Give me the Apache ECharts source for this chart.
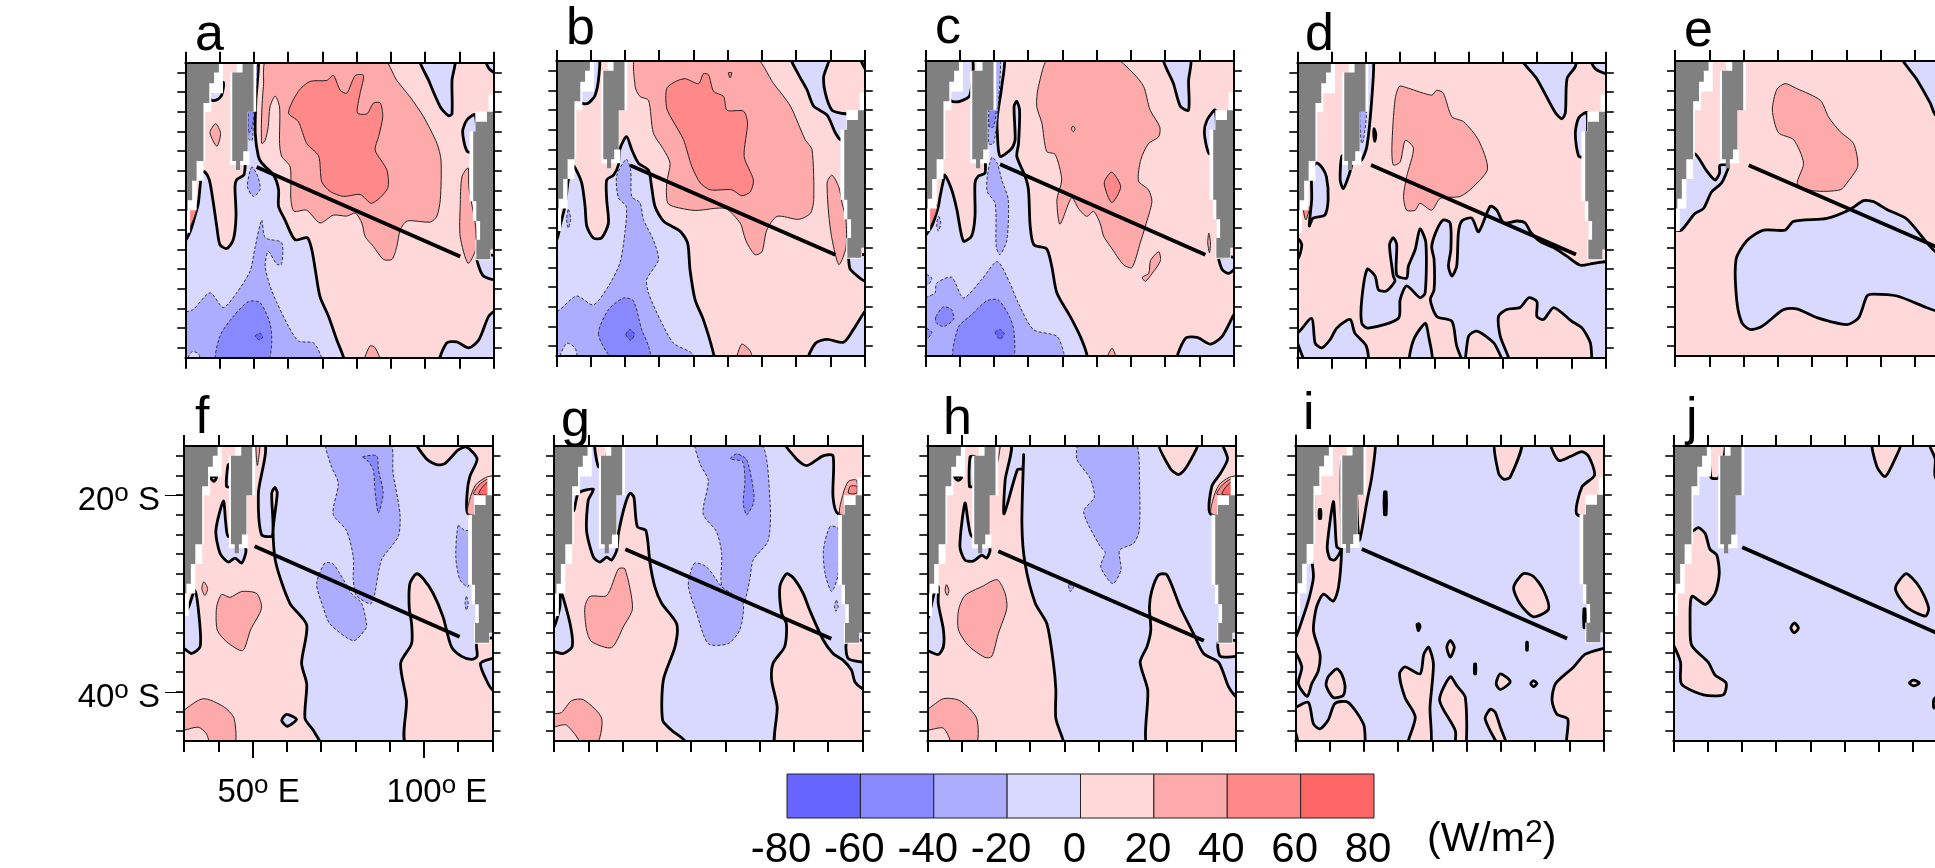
<!DOCTYPE html>
<html><head><meta charset="utf-8">
<style>html,body{margin:0;padding:0;background:#fff;overflow:hidden}#c{width:1935px;height:868px}</style>
<script src="https://cdn.jsdelivr.net/npm/echarts@6/dist/echarts.min.js"></script>
</head><body><div id="c"></div>
<script>
// Flux anomaly bands (W/m2)
const bandEdges=[-80,-60,-40,-20,0,20,40,60,80];
const bandColors=['#6666ff','#8888ff','#adadff','#d9d9ff','#ffd9d9','#ffaaaa','#ff8888','#ff6666'];
const lonTicks=[30,40,50,60,70,80,90,100,110,120];
const latTicks=[16,18,20,22,24,26,28,30,32,34,36,38,40,42,44];
const panelLetters=['a','b','c','d','e','f','g','h','i','j'];
// land mask in lon, deg S
const landAfrica=[29,14,39.8,14,39.8,16,38.4,16,38.4,17.1,37,17.1,37,19.1,35.3,19.1,35.3,25,33.3,25,33.3,27,32,27,32,29,30.7,29,30.7,30,29,30];
const haloAfrica=[29,14,41,14,41,18.1,37.6,18.1,37.6,20,35.8,20,35.8,25,35.3,25,35.3,27,33.3,27,33.3,30,31.4,30,31.4,32.3,29,32.3];
const landMadagascar=[46.7,14,49.9,14,49.9,20,48.2,20,48.2,24,46.9,24,46.9,25,46,25,46,25.9,44.8,25.9,44.8,25,43.7,25,43.7,16,46.7,16];
const haloMadagascar=[45,14,50.7,14,50.7,20,48.3,20,48.3,24,48.7,24,48.7,25.4,43.1,25.4,43.1,16,45,16];
const landAustralia=[121,20,118,20,118,21,114.8,21,114.8,22,114,22,114,29.1,114.9,29.1,114.9,31.1,116,31.1,116,33,114.9,33,114.9,35,119,35,119,34,121,34];
const haloAustralia=[121,18.2,118.5,18.2,118.5,20,114.6,20,114.6,22,112.9,22,112.9,29.1,113.9,29.1,113.9,31.1,115,31.1,115,33,114.6,33,114.6,35.1,119.2,35.1,119.2,34.1,121,34.1];
// section line end points per panel: lon, S, lon, S
const sectionLines=[[50.8,25.6,110.2,34.7],[51.5,25.6,111.4,34.7],[51.8,25.5,111.7,34.7],[51.5,25.4,111.3,34.5],[51.5,25.6,111.5,34.7],[50.6,25.2,110.4,34.4],[50.8,25.5,110.9,34.6],[50.7,25.7,110.7,34.8],[49.4,25.5,109.3,34.6],[50.1,25.3,110,34.5]];
const panelBackground=[10,10,10,10,10,-10,-10,-10,-10,-10];
// contour regions: [band level, [lon,S,...], optional level around it]
const panelA=[
[-10,[51.3,14.5,50.6,18.8,50.4,22.2,51.3,24.5,52.3,25.2,55.7,26.4,57.2,27.9,57.2,29.6,59.1,31,62,33,65.6,32.8,66.9,34,67.9,36,69.3,38.8,71.8,40.8,74.2,43.2,76.2,45,76.5,46,29,46,29,33.2,30,33.1,31.6,32,32.8,30.6,33.8,29.3,34.8,26.2,35.7,26.1,37,26.9,38.2,29.3,39.2,31.7,40.1,33.5,42.1,33.9,44,33,44.8,30.6,44.5,27.6,45,26.9,47.1,26.4,47.5,25,47.5,19,48.9,14.5]],
[-30,[49.4,25.6,48.1,27.6,49.9,28.6,51.8,27.9,51.2,26.6]],
[-30,[50,15.4,51,15.4,50,20.1,49.5,22.9,48.3,22.7,48.3,20,49.7,19.8]],
[-50,[48.5,20,50,20,49.5,21.5,48.5,22.2]],
[-30,[29,40.6,32.3,40.1,37.2,38.4,41.1,39.9,45,38.4,48.9,36.2,50.4,33.7,52.3,31,53.3,32.8,58.1,33.3,58.1,35.5,56.7,35.5,54.2,34.2,53.3,35.7,54.7,37.7,56.7,39.4,60.1,41.8,63,43.3,67.4,43.5,69.8,45,70,46,29,46]],
[-50,[39.2,45.5,40.1,42.8,44,40.8,48.4,39.3,51.8,39.4,54.7,41.5,55.2,43.5,53.8,45.5]],
[-70,[50.4,42.8,51.8,42.5,52.6,42.9,51.6,43.2]],
[-10,[30.4,45.5,31.9,44.4,33.8,44.6,34.5,45.5],-30],
[30,[82.2,45.5,83.9,43.8,85.4,44,86.9,45.5]],
[30,[54,14.5,52.8,17.4,52.3,20.1,52.3,23.2,53.3,22.9,54.2,21.5,54.7,19.5,56.2,18.4,57.5,19.5,57.5,23.2,58.1,24.5,60.6,25.6,60.8,28.9,61.7,30.1,65.4,30,69.3,31.3,73.2,30.5,77.1,30.6,79.6,30.3,81.5,31.3,82.5,32.7,84.9,33.7,87.8,35,90.3,35,91.7,33.7,92.7,32,94.7,31.1,101.5,31.2,103.4,30.6,104.4,28.9,104.6,24.9,103.4,23.2,99.5,20.5,95.6,18.5,91.7,16.8,87.4,14.5]],
[50,[60.1,20.1,63,17.9,66.4,16.9,71.3,16.8,73.2,16.3,75.2,17.8,77.1,18.1,79.6,16.3,82,16.3,81,18.1,80.2,20.1,83,20.2,84.9,19.1,86.9,19.1,87.6,20.5,86.4,22.5,85.4,23.9,88.8,25.9,89,27.8,84.4,29.3,81,28.4,76.2,28.6,72.3,28.1,69.8,27.1,68.9,24.5,65.4,23.2,63,21]],
[-10,[98.4,14.5,101,16.8,104.4,19.5,106.8,20.4,107.8,20.2,107.8,16.8,108.5,14.5]],
[-10,[117.5,14.5,120.5,14.5,120.5,16,118.6,15.6]],
[-10,[114.6,20.3,112.2,20.8,110.9,22,112.2,24,114.6,24]],
[30,[112.5,25.7,110.7,26.6,110.2,29.6,110.2,32.7,112.5,35.4,114.7,34,114.7,31.7,113.7,29.6,112.7,27.6]],
[-10,[115.1,34.7,115.6,35.7,117,36.7,120.5,37,120.5,34.7]],
[-10,[104.4,45.5,106.3,43.5,109.2,43.4,112.7,44,115.6,43.2,118.5,40.8,120.5,40.3,120.5,45.5]],
[-10,[37.2,18.1,37.4,18.8,39.1,18.8,40.6,18.3,41.1,17]],
[30,[38.9,21.2,37.2,22.1,39.2,23.5,40.3,22.2]],
[50,[31,29.7,33.3,29.7,32.3,31,30.4,32.3,29.5,32.3,29.5,30.3]]
];
const panelB=[
[-10,[48.1,25.6,48.6,23.9,50.5,22.7,52,24,54,25.4,56.9,26.1,57.8,27.8,58.8,29.8,61.3,31.3,66.1,32.3,68.3,33.5,69,36.2,70.5,39.3,72.9,41.3,75.9,44.8,76.2,46,29,46,29,33,30.1,33.2,31.3,31.5,32.5,29.8,33.5,27.1,34.5,25.7,35.2,25.7,37.4,27.4,38.4,29.8,38.9,31.8,40.8,33,43.2,33,45.2,31.5,44.7,29.1,44.7,27.1,46.7,26.6]],
[-30,[50.4,25,51.7,26.1,52,28.8,54.4,29.4,55.4,31.1,58.3,33.2,59.8,35.2,56.4,37.2,56.9,38.6,60.3,41.3,64.2,43.7,69.5,44.7,70,45.5,29,45.5,29,40.3,30.6,40.4,35.9,38.9,40.8,39.8,45.2,37.9,48.6,35.5,50.1,32.2,50.4,29.8,48.1,28.9,47.6,26.7]],
[-50,[42.3,42.8,45.2,40.3,49.6,39.1,52.5,39.4,54.9,42.3,56.9,44,57.4,45.5,47.1,45.5]],
[-70,[50.3,42.8,51.5,42.3,52.8,42.8,51.7,43.4]],
[-10,[30.9,45.5,33,43.7,35.5,44.2,35.9,45.5],-30],
[30,[53.5,14.5,53,17.6,54.4,18.6,56.9,19,58.3,22.3,61.3,24,63.2,25.4,62.2,27.4,62.4,29.4,64.2,29.8,70.5,30.2,79.3,30,83.7,31.5,84.6,32.5,85.6,33.5,88,34.7,90,34.4,91.4,32.2,94.4,30.8,100.7,31.1,104.1,30.5,105.1,29.1,104.6,24,102.6,23,98.3,19.6,93.4,17.3,87.5,14.5]],
[50,[62.2,17.8,64.7,17.1,67.6,16.8,71.5,17.3,72.9,16.3,74.4,16.4,75.9,18.1,78.8,18.6,79.8,20,84.6,20.1,85.8,21.3,84.8,24.7,87.5,27.1,86.6,28.3,84.1,28.7,81.2,28.1,74.9,28.1,72,27.4,69.5,25.7,67.1,23,64.2,21.2,62.2,19.8]],
[50,[80.2,16.2,81.2,16.2,80.7,16.7]],
[-10,[98.5,14.5,100.7,16.4,103.1,17.9,105.1,19.6,109,20.5,111.4,22.3,112.9,23,115.3,23,115.3,20.5,112.9,20.3,110.4,20,108.5,18.3,108,16.6,109.5,14.5]],
[-10,[118.5,14.5,120.5,14.5,120.5,16]],
[30,[110.4,26.6,109,27.4,110,32.2,112.4,35.7,114.5,34,114.5,31.1,113.4,29.5,112.4,27.8]],
[-10,[115.3,35.2,115.8,36.2,120.5,37.4,120.5,34.8,115.3,34.8]],
[-10,[103.6,45.5,105.6,43.7,109,43.3,113.8,43.6,116.7,42.3,120.5,40.4,120.5,45.5]],
[30,[82.7,45.5,84.1,43.8,86.6,44.5,87.1,45.5]],
[-10,[42.3,14.5,42.4,16.6,41.3,18.5,39.3,19.3,37.4,19.3,35.9,18.6,35.9,14.5]],
[-30,[33.5,30.1,34.2,31.1,33.5,32,33,31.1]]
];
const panelC=[
[-10,[53,14.5,52.3,17.6,51,20.7,51,22.3,51.8,24.7,55.2,23.9,56.2,23,55.9,19.6,56.7,19.1,57.5,20,57.2,23.4,56.7,24.7,59.1,26.7,60.1,28.1,60.6,31.8,61.7,33.7,65.4,34.1,66.9,35.9,68.4,38.6,72.3,41,75.2,43,77.1,44.8,77.4,46,29,46,29,33.9,30,32.8,31.9,31.8,33.8,29.8,34.3,28.8,35.3,27.1,35.7,26.6,37.7,28.1,39.2,30.1,41.1,33.3,43.5,32.8,44.5,30.8,44.5,27.4,45.5,26.7,47.4,26.4,47.5,25,47.5,19,48.9,14.5]],
[-30,[49.4,24.8,48.1,26.7,48.1,28.3,50.4,29.5,50.7,33.9,51.8,34.7,53.8,33.2,54.2,29.1,52.3,27.1,51,25.4]],
[-30,[50.6,14.5,52,14.5,51,20.7,49.9,23.4,48.5,23.4,48.7,19.8,49.9,19.8]],
[-50,[48.7,19.8,50.6,19.8,49.9,21.7,48.7,21.7]],
[-30,[29,39.4,32.8,38.6,33.3,37.6,37.7,37,41.1,39.1,46.5,37.2,51,35.4,54.7,37.6,56.7,39.3,61.5,42.3,68.4,43,70.5,44.8,71,46,29,46]],
[-30,[29,36.5,30,36.6,31.9,37.1,30.9,37.7,29,37.7]],
[-50,[38.5,45.5,39.6,42.1,43.5,40.8,47.9,39.4,51.3,39.3,54.7,41.1,55.9,42.6,55.2,45.5]],
[-50,[33.1,41,35.3,40,37.7,40.3,38.2,41.3,35.3,42,33.1,41.6]],
[-50,[29,42.1,30,42.1,31.9,42.6,30.4,43.3,29,43.3]],
[-70,[50.4,42.6,51.7,42.3,53,42.7,51.8,43.3]],
[30,[66.4,14.5,63,17.6,62.5,19.6,64,21.3,65.4,24.2,67.9,24.5,69.8,27.1,68.4,29.1,69.3,31.6,72.7,28.9,74.7,30,77.1,30.8,79.1,30.3,81,31.5,82,32.8,83.9,33.8,87.8,35.7,90.3,36,92.7,33.5,94.2,31.8,96.1,29.3,95.1,28.1,92.2,27.2,92.9,25,95.1,23.4,98.1,22.7,98.4,21.7,95.6,20,93.7,17.6,90.8,16.3,84.4,14.5]],
[50,[84.4,26.3,82.2,27.4,84.4,29.4,87,27.8]],
[30,[73.1,21.6,73.7,21.9,73.2,22.2,72.6,21.9],30],
[30,[98.1,34.4,95.7,35.3,95.2,36.6,93.3,37,94.2,37.4,96.2,36.6,98.6,35.3]],
[30,[112.7,32.5,112.4,33.5,112.9,34.5,113.2,33.5]],
[30,[82.8,45.5,84.5,44.2,85.7,45.5]],
[-10,[99.3,14.5,102.4,17.3,104.4,19.6,106.8,20,106.8,17,107.3,14.5]],
[-10,[114.6,20,112.2,21,111.4,22.3,112.7,24.4,114.6,24.4]],
[-10,[103.7,45.5,105.9,43.2,109.3,43.1,113.2,43.8,116.6,43,120,40.8,120.5,40.8,120.5,45.5]],
[-10,[115.6,35.2,116.6,36.2,118.5,36.6,120.5,36,120.5,35,115.6,35]],
[-10,[43.5,14.5,43,18.5,40.1,19.1,37.7,19.1,36.2,18.3,36.2,14.5]],
[-30,[33.9,30.8,34.5,31.5,33.8,32.3,33.3,31.6]],
[50,[31,29.7,33.5,29.7,32.5,31,30.4,32.5,29.5,32.5,29.5,30.3]]
];
const panelD=[
[30,[59.8,17.4,58.5,18.8,57.6,23.5,58,25.4,60,25.1,61.5,22.9,63.9,23.7,61.9,26.6,61,28.6,61.9,30,64.4,30,65.8,29.3,69.2,30,71.7,28.8,77.5,28.6,81.4,27.6,85.5,25.8,82.9,22.9,78.5,21,75.1,20.5,72.6,18.1,70.7,17.8,69.2,18.3,62.4,17.6]],
[-10,[68.8,39.1,69.9,38.1,69.9,35,69.2,33.7,70.7,32,72.6,31,74.6,31.3,74.8,34,74.1,35.7,75.1,36.7,76.5,35.7,77,32.3,78,31.1,80.9,30.8,82.9,32.2,86.3,29.6,88.2,30,90.2,31.3,94.1,31.1,96.5,31.3,98,32.2,100.9,33.2,104.8,33.8,108.7,34.7,112.6,35.6,116.5,35.4,121,35.4,121,46,116.5,46,115.5,43.5,113.1,42,110.1,41.3,104.8,39.9,101.9,41.1,99.9,40.8,99.9,39.3,97.5,38.9,95,39.9,91.1,40.1,88.7,40.8,89.2,42.8,92.1,45.5,90.4,45.5,87.3,43.5,82.4,42.3,80,42.8,78.7,45.5,76.5,43.8,75.1,41.3,70.7,40.8]],
[-10,[50.4,36,48.8,39.1,48.8,41.5,50.7,42,59.5,41,60,39.1,61.9,37.7,65.8,38.9,67.3,38.4,67.5,33.3,65.8,31.9,64.4,34,62.4,35.7,61.9,36.9,59,36.6,59,33.5,58,32.8,56.9,33.5,58,36.7,58.5,37.2,56.1,38.2,53.7,38.1,52.7,36.7]],
[-10,[29,42,30,42.5,34.2,41,35.2,43.5,37.1,44,39.5,43.2,41.5,42,45.4,41.1,46.8,42.5,50.1,43.8,50.3,45.5,32.9,45.5,30,43.5,29,43]],
[-10,[62.9,45.5,63.9,43.2,67.3,41.5,68.3,42.8,69.2,45.5]],
[-10,[35.6,25.2,34.2,25.9,34.2,28.9,33.5,31.6,34.6,30.8,38,30.5,39,28.9,38.5,26.6,37.1,25.6]],
[-10,[29,32.8,30,32.8,31.3,33.5,30.3,34.9,29,34.9]],
[-10,[43,24.5,42.5,26.9,43.4,27.8,44.9,26.6,45.9,25.2,44.4,24.5]],
[-10,[50.2,14.5,52.2,14.5,51.7,18.8,50.3,23.5,48.8,24.9,47.5,24.9,47.5,20,49,18.8]],
[-30,[48.3,20,50.1,20,49.3,22.9,48.7,23.2]],
[-10,[52.4,21.7,52.9,22.3,52.6,23,52.3,22.3]],
[-10,[95.5,14.5,100,16.7,105.3,20.1,107.2,20.7,108.2,20.1,108.7,16.6,111.1,15.4,111.1,14.5]],
[-10,[115.5,14.5,116.9,15.6,120.5,16.1,120.5,14.5]],
[-10,[114.5,20.1,112.1,20.6,111.1,22.2,112.1,24.5,114,24.5]],
[50,[31.8,29.8,33.5,29.7,32.5,31]]
];
const panelE=[
[30,[62.1,17.3,59.7,17.9,58.4,20,60.2,22.3,64.6,23,67.5,25.4,65.7,27.5,70.4,28.2,78.2,28.1,80.6,27.2,83.3,25.7,82.1,23.4,78.2,22.2,74.8,20.7,72.4,19,65.5,17.8]],
[-10,[47.8,35.2,48,39.3,49.5,41.6,51.9,42.3,55.3,42,61.6,40.3,65.5,40.2,71.4,41.1,80.1,41.8,83.6,41.1,86,38.9,87.9,38.7,94.8,38.9,103.5,40.1,106,40.4,112,41,112,35,106,34.4,97.7,31.1,91.8,30.1,87.9,29.3,85,29.2,81.1,30.1,74.3,31,64.6,31.3,62.1,32.2,55.8,32.2,50.9,33.3]],
[-10,[29,32,30,32.2,31.9,32.2,35.8,30.5,38.3,30,40.7,28.3,43.6,27.4,45.3,26.1,45.6,25.6,43.1,25.6,43,26.4,41.7,27.1,39.3,26.2,35.6,24.4,32.4,25.7,30,29.1,29,29]],
[-10,[96.2,14.5,100.6,16.9,104.5,19.3,106,20.5,112,22,112,14.5]]
];
const panelF=[
[10,[53.1,14.5,51.7,19.8,52.6,24,55.8,24.1,55.6,19.8,56.5,19.2,57.2,19.8,56,23.6,56.8,26.9,60.9,31,65.8,33.2,64.3,37.1,65.8,39.2,65.3,42.7,67.7,43.9,69.7,45.5,29,45.5,29,14.5]],
[-10,[29,32.2,30,32.2,31.3,31.4,33.2,29.7,34.5,32.7,34.7,35.4,32.2,36.1,30,35.6,29,35.6]],
[-10,[41.5,20.6,39.3,23.6,40.5,25.9,42.9,26.8,44.9,26.4,46.8,26.9,48.1,25.6,46.3,24.2,42.9,24.2,42.2,22.9]],
[-10,[37.6,18.1,39.5,18.2,38.7,18.6]],
[-10,[42.4,19.1,42.9,16.9,43.9,16.9,43.9,19.1]],
[10,[97.8,14.5,100.7,16.3,103.7,16.9,106.1,16.8,110,15.4,112.4,15.1,115.5,16.3,113.4,18.1,112.6,19.8,112.9,21.9,121,21.9,121,14.5]],
[10,[97.8,28,95.9,29,95.7,31.4,96.4,33.1,96.4,35.1,93.2,37.1,94.9,40.9,95.1,45.5,121,45.5,121,34.7,115.5,34.9,115.5,36.4,113.9,36.7,111,36.4,108,35.4,105.6,32.4,102.7,30,99.8,28.5]],
[-10,[116.5,37.1,120,36.6,121,36.6,121,39.5,120,39.8,118.2,38.8]],
[-30,[71.6,14.5,72.8,16.9,75,18.8,73.5,21.9,77.4,23.6,79.4,26.3,79.4,28.6,80.3,30.2,84.7,31,87.6,26.6,92.5,24.2,93,21.9,91,17.8,89.9,14.5]],
[-50,[82.1,16.1,86.2,16,86.7,17.4,88.1,19.8,86.7,21.8,85.7,19.5,85.2,17.4,83.3,16.4]],
[-30,[71.1,26.9,68.7,29,70.6,31.4,72.6,33.1,79.4,34.8,82.8,33.7,83.3,33.2,81.8,31,78.9,30,75.5,28,73.5,27]],
[-30,[110,23.1,109.3,26.3,110.5,28.6,112.9,29.3,113.9,26.3,113.9,23.6,111.9,23.6]],
[-30,[112.4,30.3,112.9,31,112.4,31.7,112,31]],
[30,[41,30.1,39.5,31.4,39.7,33.7,42.4,34.9,47.1,35.8,49.4,33.7,52.6,31.5,51.2,30,46.8,29.8,43.4,30.4]],
[30,[35.8,28.8,35.2,29.5,36.1,30.2,36.9,29.5]],
[30,[29,42.7,30,41.9,35.6,40.7,41.5,41.5,44.6,42.7,44.4,45.5,29,45.5]],
[10,[29,43.9,30,43.9,34.2,43.6,36.6,44.3,37.1,45.5,29,45.5],30],
[-10,[58.5,42.9,59.9,42.3,62.8,42.8,60.1,43.5],10],
[30,[51,14.5,52.2,14.5,51.4,17]],
[30,[112.9,21.9,113.3,20.5,115,19,118,18.2,121,18.1,121,21.9]],
[50,[114.5,19.9,116,19,118.3,18.4,120,18.4,120,19.9]],
[70,[116,19.9,117,19.2,118.5,18.7,120,18.7,120,19.9]]
];
const panelG=[
[10,[31.7,19.5,35.6,21.6,37.1,19.8,41.5,19.4,40,20.5,39.5,23.6,41.5,26.3,43.4,26.8,45.4,26.3,46.8,26.6,48.3,25.6,48.8,23.9,50.7,21,52.2,19.8,53.3,20.2,54.3,23.2,56.8,23.6,58,26.9,59.4,29.3,61.4,31,65.8,33.1,65.3,35.4,61.9,38.8,61.7,42.9,64.3,43.9,68.2,45,68.5,46,29,46,29,19.5]],
[-10,[29,33,30,33.4,31.7,31.4,31.9,29.7,34.7,33.1,35.3,35.4,32.7,36.1,30,35.9,29,35.9]],
[10,[42,14.5,42.9,17.1,44.4,17.1,45.8,14.5]],
[10,[97.3,14.5,100.7,16.3,103.7,17,108.5,16,111.4,16,111.4,20.2,112.9,21.9,121,21.9,121,14.5]],
[10,[97.8,28,95.9,29.3,96.4,32,97.8,33.1,97.3,35.4,93.9,37.1,93.5,38.8,95.1,41.5,95.1,46,121,46,121,39.7,120,39.7,117.8,39,116.8,37.8,114.4,36.8,111.4,36.1,108.5,34.7,104.6,31.7,102.7,30,99.8,28.4]],
[10,[115.5,34.9,115.8,36.6,120,37,121,37,121,34.9]],
[-30,[71.4,14.5,72.6,16.8,75,18.5,73.5,21.9,77.4,23.7,78.9,25.9,78.9,29.3,81.8,30,85.2,31,87.1,28.6,88.1,26.6,92.5,24.6,93,20.5,90,14.5]],
[-30,[71.1,26.9,69.7,28,69.2,29.3,71.6,32,75,35.1,80.8,35.1,84.2,33.7,85.2,31,81.8,30,78.9,29.3,74.5,27.3]],
[-50,[81.5,16.3,83.3,15.8,86.2,16.4,88.2,19.5,88.2,20.8,86.2,22,85.2,20.8,85.7,18.5,85,16.6]],
[-30,[110.5,23.2,108.6,25.6,109.1,28,111,29.8,112.9,28,112.9,23.4]],
[-30,[112.4,30.7,112.9,31.4,112.2,31.8,111.8,31.3]],
[30,[48.8,27.5,45.4,30.2,40.5,30.3,39,31.4,39.5,33.7,41,34.9,46.8,35.5,50.2,33.4,52.9,31.5,50.7,27.5]],
[30,[29,41.8,30,42.2,32.2,42.1,35.1,40.9,38.6,40.8,43.9,42.7,42,45.5,29,45.5]],
[10,[29,44,30,43.6,33.7,43.4,37.8,45.5,29,45.5],30],
[30,[113.4,21.9,114.4,19.8,115.9,18.6,118.3,18.5,118.3,21.9]],
[50,[115.9,19.8,116.4,19.1,118.3,19.1,118.3,19.8]]
];
const panelH=[
[10,[54,14.5,52.7,18.5,52.4,21.9,56.3,17.4,57.8,17.3,58.1,15.9,57.6,22.9,58.5,26.9,61.5,31,64.9,33.1,66.8,37.1,67.5,39.8,67.5,42.7,69.7,45,70,46,29,46,29,14.5]],
[-10,[29,33,30,32.7,31,31.5,32,30,33.2,29.3,33.2,31,34.7,33.7,34.7,35.4,33.2,36.2,30,35.8,29,35.8]],
[-10,[41,20.8,39.5,25.2,41,26.6,43.4,26.7,45.9,26.1,47.3,26.4,48.3,25.6,47.3,24.2,43,24.2,42,22.9]],
[-10,[37.8,18.1,40,18.2,39,18.5]],
[-10,[42.5,16.1,42.3,19.1,43.4,19.1,43.9,16.1]],
[10,[97.5,14.5,100.9,17.3,103.3,17.9,105.7,17.1,108.9,14.5]],
[10,[116,14.5,117.6,16.3,115.5,17.8,113,19.1,112.6,21.9,121,21.9,121,14.5]],
[10,[97.5,28.1,95.5,29.7,94.8,31.4,95.2,33.7,94.1,35.4,92.1,37,94.3,39.8,94.9,46,121,46,121,40.2,120.1,40.5,117.9,39.5,115,37,110.6,36.1,107.7,34.1,103.8,31.4,99.9,28.1]],
[10,[115,34.9,115.5,36.4,120,36.4,121,36.4,121,34.9]],
[-30,[74.6,14.5,73.6,16.3,77.5,18.3,78.7,20.2,75.6,21.7,80.4,25.2,81.9,25.8,80.6,27.3,84.1,29,86.5,27.6,86.1,25.6,90.2,24.9,91.8,23.6,91.9,19.1,90.4,14.5]],
[-30,[71.2,29.1,72.7,29.3,71.7,29.8]],
[30,[50.4,28.6,45.9,29.3,41,30.2,39.1,31.7,39.1,33.7,42,35.3,46.8,36.5,48.8,36.4,50.7,34.1,53.2,31.5,52.7,30]],
[30,[35.6,29.1,35.2,29.7,35.8,30.2,36.3,29.7]],
[30,[29,41.9,30,41.8,34.7,40.7,39.5,40.9,44.4,42.7,43.9,45.5,29,45.5]],
[10,[29,43.7,30,43.9,34.7,43.7,36.8,45.5,29,45.5],30],
[30,[50.3,14.5,51.4,14.5,50.4,16.8]],
[30,[112.9,21.9,113.3,20.5,115,19,118,18.2,121,18.1,121,21.9]],
[50,[114.5,19.9,116,19,118.3,18.4,120,18.4,120,19.9]],
[70,[116,19.9,117,19.2,118.5,18.7,120,18.7,120,19.9]]
];
const panelI=[
[10,[50.4,14.5,53.3,14.5,52.3,18.2,51,20.5,49.4,23.6,48.7,24.6,48,21.2,48,14.5]],
[10,[36.5,14,45.5,14,45.5,16.5,43.5,16.5,43.5,25.6,42.6,29.4,41.1,30.8,38.2,30.1,36.2,31.4,35.3,33.8,37.2,36.2,36.7,37.9,34.8,39.2,33.5,40.5,30.9,39.2,31.9,37.5,30,36,29,36,29,34.6,30,34.6,32.3,32.4,34.1,30.4,35.3,28.3,34.5,25.6,35.3,22.9]],
[-10,[41.1,20.7,39.3,25.3,40.1,26.5,41.6,26.6,43.3,25.6,42.1,25.3,41.6,22.9]],
[10,[29,41.5,30,41.6,33.8,41.1,35.3,43.3,37.2,43.8,39.6,42.9,41.6,41.2,45.4,41.1,49.9,43.3,50.4,45,50.4,46,32.1,46,30,44.1,29,43.8]],
[10,[42.1,37.7,39.6,38.5,39,39.4,41.1,40.6,44,40.4,44.5,39.4,43.5,38.2]],
[10,[68.9,35.5,67.5,36.2,66.4,38.2,62,37.5,60.4,38.2,62,40.6,65,42.6,62.5,46,69.3,46,69.3,41.6,70.3,37.2]],
[10,[75.2,38.5,72.1,40.9,76.7,44,76.7,46,79.6,46,79.6,40.6,77.1,39.4]],
[10,[86.9,41.8,85.4,42.8,90.3,46,92.2,46,89.8,43.6,88.3,42.1]],
[10,[121,35.6,120,35.6,114.6,36.2,111.2,37.5,105.9,39.2,104.9,40.9,106.3,42.3,109.5,42.8,109.5,46,121,46]],
[10,[96.6,28,93.7,29.4,95.6,31.1,99.5,32.4,103.9,31.6,102.4,29.7,99.5,28.3]],
[10,[88.3,14.5,89.3,17.8,90.8,18.4,92.7,18.2,96.1,14.5]],
[10,[104.6,14.5,106.8,16.5,110.2,16.1,113.6,15.6,115.6,16.1,117.3,18,113.6,19.2,112.2,22,121,22,121,14.5]],
[10,[75.2,34.8,74.2,35.5,75.2,36.5,76.4,35.5]],
[10,[89.8,38.2,88.6,39.2,89.8,39.8,92.7,39]],
[10,[99.5,38.9,98.7,39.2,99.5,39.5,100.5,39.2]],
[10,[56,19.7,56.5,19.7,56.5,22,56,22]],
[10,[65.5,33.2,66,33.1,66.4,33.4,65.9,33.8]],
[10,[82.3,37.2,82.6,37.2,82.6,38.2,82.3,38.2]],
[10,[37,21.5,37.4,21.5,37.4,22.4,37,22.4]],
[10,[97.5,35,97.7,35,97.7,35.8,97.5,35.8]],
[10,[114.2,31.6,114.6,31.6,114.6,33.5,114.2,33.5]]
];
const panelJ=[
[10,[35.4,23.7,37.3,23.3,39.3,23.9,40.7,25.5,42.7,26.1,43.4,28,42.2,30,39.3,31.1,35.4,30.3,34.9,33.1,35.4,35.3,40.2,37,42.2,38.3,45.4,39.1,44.6,40.3,38.8,40.3,32.4,39.2,32.1,37,30,35.2,29,34.8,29,24]],
[10,[97.7,28,94.8,29.5,98.2,31.4,103.5,32.3,104.5,31.5,102.1,29.5,99.6,28.4]],
[10,[88.2,14.5,89.4,17.1,91.8,18.1,94.3,16.6,96.4,14.5]],
[10,[104.5,14.5,106.4,16.3,106.4,18.1,110,20,110,14.5]],
[10,[65.3,33,64.3,33.5,65.3,34,66.5,33.5]],
[10,[98.9,39.1,100.1,38.8,101.8,39.1,100.1,39.4]],
[10,[106,40.8,107,40.5,107,41.6,106,41.6]],
[10,[41,14.5,45.1,14.5,43.3,18.2,41,18.2]]
];
const panels=[panelA,panelB,panelC,panelD,panelE,panelF,panelG,panelH,panelI,panelJ];
// layout
const FONT='"Liberation Sans",Arial,sans-serif';
const gridBoxes=[[185.3,62.7],[556.3,61],[925.3,61],[1297.3,62.7],[1675,61],[184,446],[554,446],[927.3,446],[1295.3,445.7],[1673.3,446]];
const letterPos=[[190,5],[561,-1],[930,-2],[1300,5],[1679,1],[190,388],[556,391],[938,389],[1298,384],[1681,389]];
const PW=308.5,PH=295;
const colorOf=v=>bandColors[Math.floor((v-bandEdges[0])/20)];
const aroundDefault=v=>Math.abs(v)===10?-v:(v>0?v-20:v+20);
function lineOf(v,a){
  if(v*a<0) return {stroke:'#000',lineWidth:2.8};
  if(Math.max(v,a)>0) return {stroke:'#222',lineWidth:1};
  return {stroke:'#333',lineWidth:1,lineDash:[3,2]};
}
const pts=(flat,api)=>{const r=[];for(let i=0;i<flat.length;i+=2)r.push(api.coord([flat[i],flat[i+1]]));return r;};
const grids=[],xAxes=[],yAxes=[],series=[],titles=[];
const axisBase={min:30,max:120,interval:10,type:'value',z:5,splitLine:{show:false},axisLabel:{show:false}};
const labelRich={n:{fontSize:33,fontFamily:FONT,color:'#000'},s:{fontSize:26,verticalAlign:'top',padding:[0,0,14,0],fontFamily:FONT,color:'#000'},p:{width:12},q:{width:26}};
panels.forEach((list,i)=>{
  const [l,t]=gridBoxes[i];
  grids.push({left:l,top:t,width:PW,height:PH,show:true,borderWidth:0,outerBoundsMode:'none',backgroundColor:colorOf(panelBackground[i])});
  const xb=xAxes.length,yl=yAxes.length;
  ['bottom','top'].forEach(pos=>xAxes.push({...axisBase,gridIndex:i,position:pos,axisLine:{show:true,onZero:false,lineStyle:{color:'#000',width:2}},axisTick:{show:true,length:11,lineStyle:{color:'#000',width:2}}}));
  ['left','right'].forEach(pos=>yAxes.push({type:'value',z:5,gridIndex:i,position:pos,inverse:true,min:15,max:45,interval:5,splitLine:{show:false},axisLabel:{show:false},axisLine:{show:true,onZero:false,lineStyle:{color:'#000',width:2}},axisTick:{show:true,length:8,customValues:latTicks,lineStyle:{color:'#000',width:1.6}}}));
  if(i===5){
    xAxes.push({...axisBase,gridIndex:i,position:'bottom',axisLine:{show:false},
      axisTick:{show:true,length:17,customValues:[50,100],lineStyle:{color:'#000',width:2}},
      axisLabel:{show:true,customValues:[50,100],margin:32,color:'#000',fontFamily:FONT,fontSize:33,
        formatter:v=>(v===50?'{p|}':'{q|}')+'{n|'+v+'}{s|o}{n| E}',rich:labelRich}});
    yAxes.push({type:'value',z:5,gridIndex:i,position:'left',inverse:true,min:15,max:45,interval:5,splitLine:{show:false},axisLine:{show:false},
      axisTick:{show:true,length:19,customValues:[20,40],lineStyle:{color:'#000',width:1}},
      axisLabel:{show:true,customValues:[20,40],margin:24,padding:[12,0,0,0],color:'#000',fontFamily:FONT,fontSize:33,
        formatter:v=>'{n|'+v+'}{s|o}{n| S}',rich:labelRich}});
  }
  series.push({type:'custom',xAxisIndex:xb,yAxisIndex:yl,clip:true,z:2,silent:true,
    data:list.map((_,k)=>[k]),
    renderItem:(p,api)=>{
      const e=list[p.dataIndex],v=e[0],a=e.length>2?e[2]:aroundDefault(v);
      return {type:'polygon',shape:{points:pts(e[1],api),smooth:0.25},style:{fill:colorOf(v),...lineOf(v,a)}};
    }});
  const mask=[[haloAfrica,'#fff'],[haloMadagascar,'#fff'],[haloAustralia,'#fff'],[landAfrica,'#808080'],[landMadagascar,'#808080'],[landAustralia,'#808080']];
  series.push({type:'custom',xAxisIndex:xb,yAxisIndex:yl,clip:true,z:3,silent:true,
    data:mask.map((_,k)=>[k]),
    renderItem:(p,api)=>({type:'polygon',shape:{points:pts(mask[p.dataIndex][0],api)},style:{fill:mask[p.dataIndex][1]}})});
  const s=sectionLines[i];
  series.push({type:'line',xAxisIndex:xb,yAxisIndex:yl,z:4,silent:true,showSymbol:false,clip:true,animation:false,
    data:[[s[0],s[1]],[s[2],s[3]]],lineStyle:{color:'#000',width:3.8}});
  titles.push({text:panelLetters[i],left:letterPos[i][0],top:letterPos[i][1],textStyle:{fontFamily:FONT,fontWeight:'normal',fontSize:52,color:'#000'}});
});
// colour bar
const cb=grids.length;
grids.push({left:787,top:774,width:587,height:44,outerBoundsMode:'none'});
const cbx=xAxes.length,cby=yAxes.length;
xAxes.push({type:'value',gridIndex:cb,min:-80,max:80,interval:20,z:5,splitLine:{show:false},axisTick:{show:false},axisLine:{show:false},
  axisLabel:{show:true,margin:11,color:'#000',fontFamily:FONT,fontSize:42,padding:[0,12,0,0],showMinLabel:true,showMaxLabel:true,hideOverlap:false}});
yAxes.push({type:'value',gridIndex:cb,min:0,max:1,show:false});
series.push({type:'custom',xAxisIndex:cbx,yAxisIndex:cby,silent:true,z:2,
  data:bandColors.map((_,k)=>[bandEdges[k],bandEdges[k+1]]),
  renderItem:(p,api)=>{
    const a=api.coord([api.value(0),1]),b=api.coord([api.value(1),0]);
    return {type:'rect',shape:{x:a[0],y:a[1],width:b[0]-a[0],height:b[1]-a[1]},style:{fill:bandColors[p.dataIndex],stroke:'#222',lineWidth:1}};
  }});
titles.push({text:'{n|(W/m}{s|2}{n|)}',left:1422,top:812,textStyle:{fontWeight:'normal',rich:{n:{fontSize:41,fontWeight:'normal',fontFamily:FONT,color:'#000'},s:{fontSize:32,fontWeight:'normal',verticalAlign:'top',padding:[0,0,14,0],fontFamily:FONT,color:'#000'}}}});
const chart=echarts.init(document.getElementById('c'),null,{renderer:'canvas',width:1935,height:868});
chart.setOption({animation:false,backgroundColor:'#fff',title:titles,grid:grids,xAxis:xAxes,yAxis:yAxes,series:series,tooltip:{show:false},legend:{show:false}});
</script></body></html>
